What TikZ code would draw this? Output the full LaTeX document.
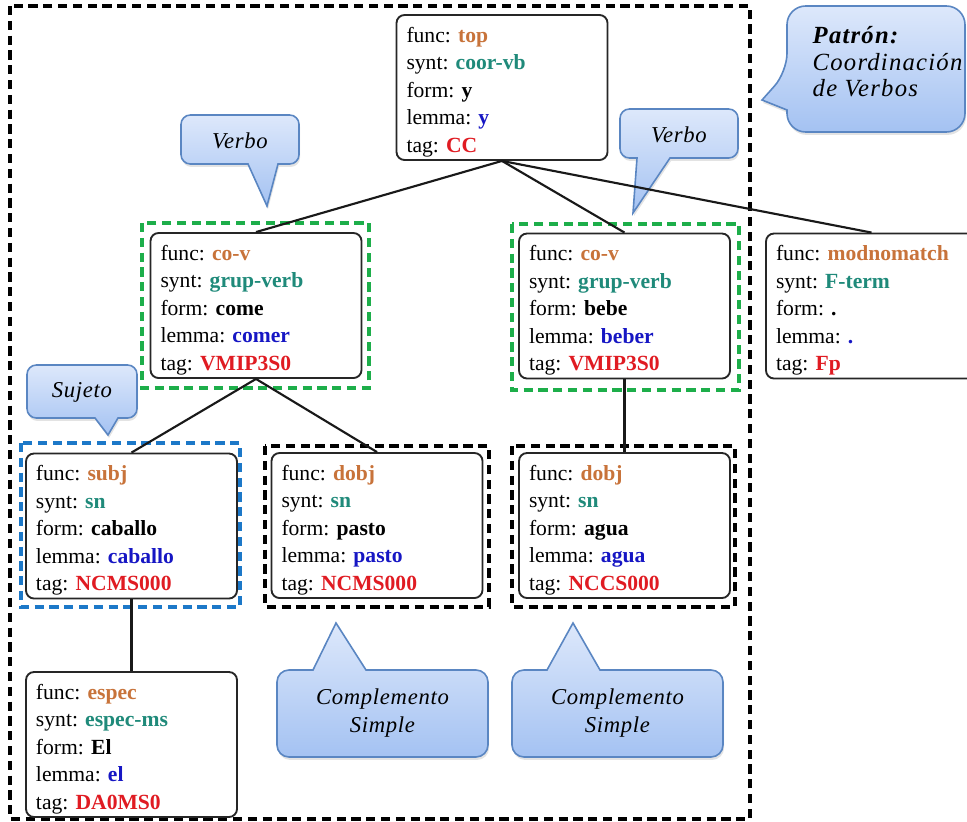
\documentclass[tikz,border=0pt]{standalone}
\usepackage{fontspec}
\setmainfont{Liberation Serif}
\frenchspacing
\usetikzlibrary{shadows}

\definecolor{funcC}{HTML}{C8733A}
\definecolor{syntC}{HTML}{1F8A7A}
\definecolor{lemC}{HTML}{1616C4}
\definecolor{tagC}{HTML}{E01B22}
\definecolor{greenD}{HTML}{1DAE4A}
\definecolor{blueD}{HTML}{1C78C8}
\definecolor{callTop}{HTML}{DDE8FB}
\definecolor{callBot}{HTML}{A4C2F2}
\definecolor{callLine}{HTML}{5A86C2}

% five feature rows of a dependency node
\newcommand\featrows[5]{\rule{0pt}{18pt}func: \textbf{\textcolor{funcC}{#1}}\\
synt: \textbf{\textcolor{syntC}{#2}}\\
form: \textbf{#3}\\
lemma: \textbf{\textcolor{lemC}{#4}}\\
tag: \textbf{\textcolor{tagC}{#5}}}

\tikzset{
  feat/.style={draw=black!85, line width=1.4pt, rounded corners=6pt, fill=white,
    minimum width=158.25pt, minimum height=108.75pt, text width=143.25pt,
    inner xsep=7.5pt, inner ysep=0pt, align=left,
    font=\fontsize{16.2}{20.6}\selectfont},
  link/.style={line width=1.6pt, black!90},
  frame/.style={line width=2.6pt, dash pattern=on 6.9pt off 4.2pt},
  callout/.style={draw=callLine, line width=1.2pt, top color=callTop,
    bottom color=callBot,
    drop shadow={opacity=0.22, shadow xshift=0.8pt, shadow yshift=-2.2pt}},
  calltext/.style={font=\fontsize{17}{21}\selectfont\itshape\addfontfeatures{LetterSpace=3}, align=center}
}

\begin{document}
\begin{tikzpicture}[x=0.75pt, y=-0.75pt]
\useasboundingbox (0,0) rectangle (967,821);
\clip (0,0) rectangle (967,821);

% outer pattern frame
\draw[frame, black] (10,6) rectangle (750,819);

% dashed groups
\draw[frame, greenD] (142,223) rectangle (369,388);
\draw[frame, greenD] (512,224) rectangle (739,390);
\draw[frame, blueD] (21,443) rectangle (240,607);
\draw[frame, black] (265,446) rectangle (489,607);
\draw[frame, black] (512,446) rectangle (735,607);

% callouts
\draw[callout] (267,206) -- (278,164) [rounded corners=7pt] -- (299,164) -- (299,115)
  -- (181,115) -- (181,164) [sharp corners] -- (248,164) -- cycle;
\node[calltext] (verboL) at (240,141) {Verbo};

\draw[callout] (633,213) -- (670,158) [rounded corners=7pt] -- (738,158) -- (738,109)
  -- (620,109) -- (620,158) [sharp corners] -- (637,158) -- cycle;
\node[calltext] (verboR) at (679,135) {Verbo};

\draw[callout] (108,435) -- (118,418) [rounded corners=7pt] -- (137,418) -- (137,365)
  -- (27,365) -- (27,418) [sharp corners] -- (95,418) -- cycle;
\node[calltext] (sujeto) at (82,392) {Sujeto};

\draw[callout] (336,623) -- (366,670) [rounded corners=9pt] -- (488,670) -- (488,757)
  -- (277,757) -- (277,670) [sharp corners] -- (313,670) -- cycle;
\node[calltext] (compA) at (382.5,713) {Complemento\\Simple};

\draw[callout] (573,623) -- (600,670) [rounded corners=9pt] -- (723,670) -- (723,757)
  -- (512,757) -- (512,670) [sharp corners] -- (547,670) -- cycle;
\node[calltext] (compB) at (617.5,713) {Complemento\\Simple};

\draw[callout] (762,100) -- (787,110) [rounded corners=14pt] -- (787,132) -- (965,132)
  -- (965,6) -- (787,6) -- (787,72) [sharp corners] -- cycle;
\node[anchor=north west, align=left,
  font=\fontsize{18.5}{19.8}\selectfont\itshape\addfontfeatures{LetterSpace=5}]
  (patron) at (808,22) {\textbf{Patrón:}\\Coordinación\\de Verbos};

% dependency nodes
\node[feat] (top)   at (502,87.5)   {\featrows{top}{coor-vb}{y}{y}{CC}};
\node[feat] (verbL) at (256,305.5)  {\featrows{co-v}{grup-verb}{come}{comer}{VMIP3S0}};
\node[feat] (verbR) at (624.5,306)  {\featrows{co-v}{grup-verb}{bebe}{beber}{VMIP3S0}};
\node[feat] (mod)   at (871.5,306)  {\featrows{modnomatch}{F-term}{.}{.}{Fp}};
\node[feat] (subj)  at (131.5,526)  {\featrows{subj}{sn}{caballo}{caballo}{NCMS000}};
\node[feat] (pasto) at (377,525.5)  {\featrows{dobj}{sn}{pasto}{pasto}{NCMS000}};
\node[feat] (agua)  at (624.5,525.5){\featrows{dobj}{sn}{agua}{agua}{NCCS000}};
\node[feat] (espec) at (131.5,744.5){\featrows{espec}{espec-ms}{El}{el}{DA0MS0}};

% dependency links
\draw[link] (top.south) -- (verbL.north);
\draw[link] (top.south) -- (verbR.north);
\draw[link] (top.south) -- (mod.north);
\draw[link] (verbL.south) -- (subj.north);
\draw[link] (verbL.south) -- (pasto.north);
\draw[link] (verbR.south) -- (agua.north);
\draw[link] (subj.south) -- (espec.north);
\end{tikzpicture}
\end{document}
